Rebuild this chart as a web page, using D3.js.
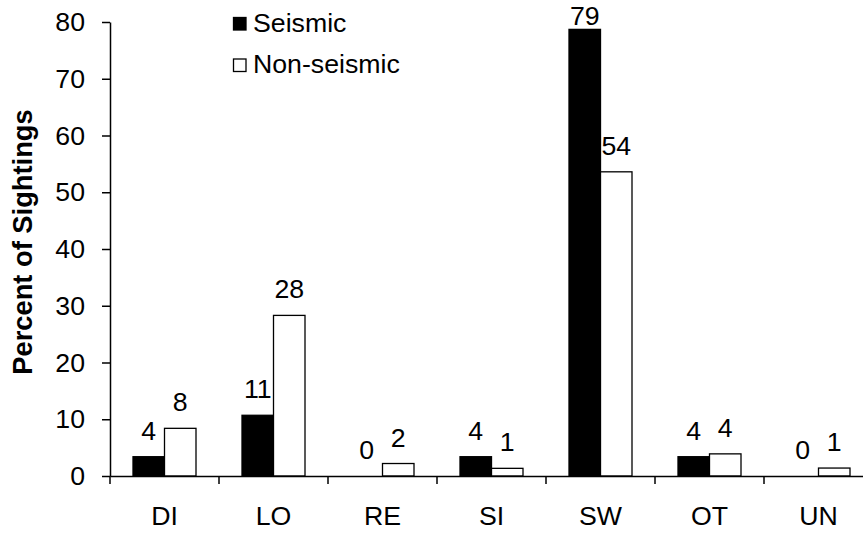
<!DOCTYPE html>
<html><head><meta charset="utf-8">
<script src="https://cdn.jsdelivr.net/npm/d3@7/dist/d3.min.js"></script>
<style>body{margin:0;background:#fff;}svg{display:block;font-family:"Liberation Sans",Arial,sans-serif;}</style>
</head><body><svg id="c" width="863" height="533"></svg>
<script>
const categories = ["DI","LO","RE","SI","SW","OT","UN"];
const series = ["Seismic","Non-seismic"];
const seismicValues = [3.4, 10.7, 0, 3.4, 78.7, 3.4, 0];
const nonSeismicValues = [8.4, 28.3, 2.2, 1.35, 53.6, 3.9, 1.4];
const seismicLabels = ["4","11","0","4","79","4","0"];
const nonSeismicLabels = ["8","28","2","1","54","4","1"];
const yTicks = [0,10,20,30,40,50,60,70,80];
const yTitle = "Percent of Sightings";

const svg = d3.select("#c");
const fs = 26.7;
const x0 = 110, y0 = 476, yTop = 22, band = 109;
const x = d3.scaleBand().domain(categories).range([x0, x0 + band*categories.length]).padding(0);
const xs = d3.scaleBand().domain(series).range([23, 86]).padding(0);
const y = d3.scaleLinear().domain([0,80]).range([y0, yTop]);

const fills = {"Seismic":"#000","Non-seismic":"#fff"};
const data = [];
categories.forEach((c,i)=>{
  data.push({c, s:"Seismic", v:seismicValues[i], l:seismicLabels[i]});
  data.push({c, s:"Non-seismic", v:nonSeismicValues[i], l:nonSeismicLabels[i]});
});

// bars
svg.append("g").selectAll("rect").data(data.filter(d=>d.v>0)).join("rect")
  .attr("x", d=>x(d.c)+xs(d.s))
  .attr("y", d=>y(d.v))
  .attr("width", xs.bandwidth())
  .attr("height", d=>y(0)-y(d.v))
  .attr("fill", d=>fills[d.s])
  .attr("stroke", "#000").attr("stroke-width", 1.3);

// value labels
svg.append("g").selectAll("text").data(data).join("text")
  .attr("x", d=>x(d.c)+xs(d.s)+xs.bandwidth()/2)
  .attr("y", d=>Math.max(y(d.v)-17, 25))
  .attr("text-anchor","middle").attr("font-size", fs).attr("fill","#000")
  .text(d=>d.l);

// y axis
const ya = svg.append("g").attr("transform",`translate(${x0},0)`)
  .call(d3.axisLeft(y).tickValues(yTicks).tickSize(8).tickPadding(17).tickSizeOuter(0));
ya.select(".domain").attr("stroke","#000").attr("stroke-width",1.5);
ya.selectAll(".tick line").attr("stroke","#000").attr("stroke-width",1.5);
ya.selectAll(".tick text").attr("font-size",fs).attr("font-family","Liberation Sans, Arial, sans-serif").attr("fill","#000");

// x axis
const xa = svg.append("g").attr("transform",`translate(0,${y0})`)
  .call(d3.axisBottom(x).tickSize(0).tickPadding(30).tickSizeOuter(0));
xa.select(".domain").attr("stroke","#000").attr("stroke-width",1.5);
xa.selectAll(".tick text").attr("font-size",fs).attr("font-family","Liberation Sans, Arial, sans-serif").attr("fill","#000");
const bounds = categories.map(c=>x(c)).concat([x(categories[categories.length-1])+x.bandwidth()]);
xa.selectAll("line.bt").data(bounds).join("line").attr("class","bt")
  .attr("x1",d=>d).attr("x2",d=>d).attr("y1",0).attr("y2",8)
  .attr("stroke","#000").attr("stroke-width",1.5);

// y title
svg.append("text")
  .attr("transform","translate(32,242) rotate(-90)")
  .attr("text-anchor","middle").attr("font-size",27.3).attr("font-weight","bold")
  .text(yTitle);

// legend
const lg = svg.append("g");
series.forEach((s,i)=>{
  const ly = 17.5 + i*41.5;
  lg.append("rect").attr("x",233.5).attr("y",ly).attr("width",12.5).attr("height",12.5)
    .attr("fill",fills[s]).attr("stroke","#000").attr("stroke-width",1.3);
  lg.append("text").attr("x",253).attr("y",ly+14).attr("font-size",fs).text(s);
});
</script></body></html>
